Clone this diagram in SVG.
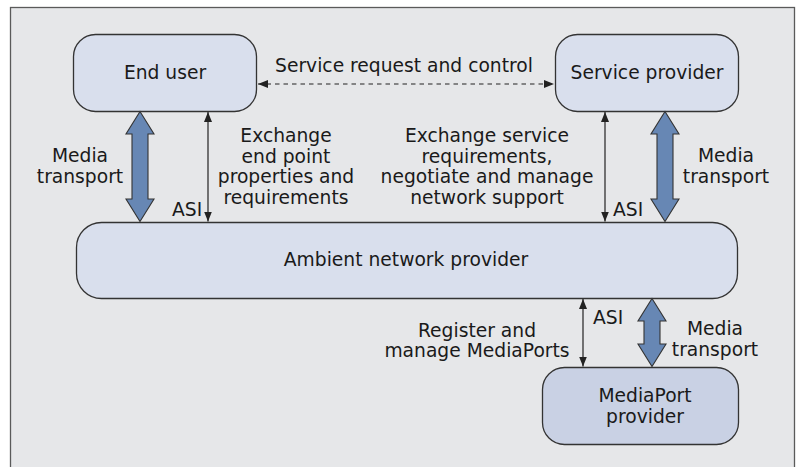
<svg xmlns="http://www.w3.org/2000/svg" width="797" height="467" viewBox="0 0 797 467">
<defs>
<marker id="ah" markerUnits="userSpaceOnUse" markerWidth="11" markerHeight="9" refX="10" refY="4" orient="auto-start-reverse">
<path d="M0,0 L10,4 L0,8 Z" fill="#222"/>
</marker>
<style>
.frame{fill:#e6e7e9;stroke:#5a5a5a;stroke-width:1.3}
.box{fill:#d9dfed;stroke:#333;stroke-width:1.3}
.box2{fill:#c9d1e4;stroke:#333;stroke-width:1.3}
.thick{fill:#6787b4;stroke:#333;stroke-width:1.1;stroke-linejoin:miter}
.thin{stroke:#222;stroke-width:1.2;fill:none}
.dash{stroke:#222;stroke-width:1.1;fill:none;stroke-dasharray:4.5 4}
text{font-family:"DejaVu Sans","Noto Sans",sans-serif;font-size:18.7px;fill:#1a1a1a}
.c{text-anchor:middle}
</style>
</defs>
<rect width="797" height="467" fill="#ffffff"/>
<rect class="frame" x="10.5" y="7.5" width="784" height="475"/>

<g id="end-user">
<rect class="box" x="73.5" y="34.5" width="183" height="77" rx="22"/>
<text class="c" x="165" y="79">End user</text>
</g>
<g id="service-provider">
<rect class="box" x="555.5" y="34.5" width="183" height="77" rx="22"/>
<text class="c" x="647" y="79">Service provider</text>
</g>
<g id="ambient-network-provider">
<rect class="box" x="76.5" y="222.5" width="661" height="76" rx="25"/>
<text class="c" x="406" y="266">Ambient network provider</text>
</g>
<g id="mediaport-provider">
<rect class="box2" x="542.5" y="367.5" width="196" height="77" rx="22"/>
<text class="c" x="645" y="402">MediaPort</text>
<text class="c" x="645" y="423">provider</text>
</g>

<g id="connectors">
<line class="dash" x1="258" y1="84" x2="554" y2="84" marker-start="url(#ah)" marker-end="url(#ah)"/>
<line class="thin" x1="208" y1="112" x2="208" y2="221.5" marker-start="url(#ah)" marker-end="url(#ah)"/>
<line class="thin" x1="605" y1="112" x2="605" y2="221.5" marker-start="url(#ah)" marker-end="url(#ah)"/>
<line class="thin" x1="583" y1="299" x2="583" y2="366.5" marker-start="url(#ah)" marker-end="url(#ah)"/>
<path class="thick" d="M140,111.5 L154,134 L148,134 L148,199 L154,199 L140,221.5 L126,199 L132,199 L132,134 L126,134 Z"/>
<path class="thick" d="M665,111.5 L679,134 L673,134 L673,199 L679,199 L665,221.5 L651,199 L657,199 L657,134 L651,134 Z"/>
<path class="thick" d="M652,298.5 L666,321 L660,321 L660,344 L666,344 L652,366.5 L638,344 L644,344 L644,321 L638,321 Z"/>
</g>

<g id="labels">
<text class="c" x="404" y="72">Service request and control</text>
<text class="c" x="80" y="162">Media</text>
<text class="c" x="80" y="183">transport</text>
<text class="c" x="286" y="142">Exchange</text>
<text class="c" x="286" y="162.5">end point</text>
<text class="c" x="286" y="183">properties and</text>
<text class="c" x="286" y="203.5">requirements</text>
<text x="172" y="216">ASI</text>
<text class="c" x="487" y="142">Exchange service</text>
<text class="c" x="487" y="162.5">requirements,</text>
<text class="c" x="487" y="183">negotiate and manage</text>
<text class="c" x="487" y="203.5">network support</text>
<text x="613" y="216">ASI</text>
<text class="c" x="726" y="162">Media</text>
<text class="c" x="726" y="183">transport</text>
<text x="593" y="324">ASI</text>
<text class="c" x="477" y="337">Register and</text>
<text class="c" x="477" y="357">manage MediaPorts</text>
<text class="c" x="715" y="335">Media</text>
<text class="c" x="715" y="356">transport</text>
</g>
</svg>
